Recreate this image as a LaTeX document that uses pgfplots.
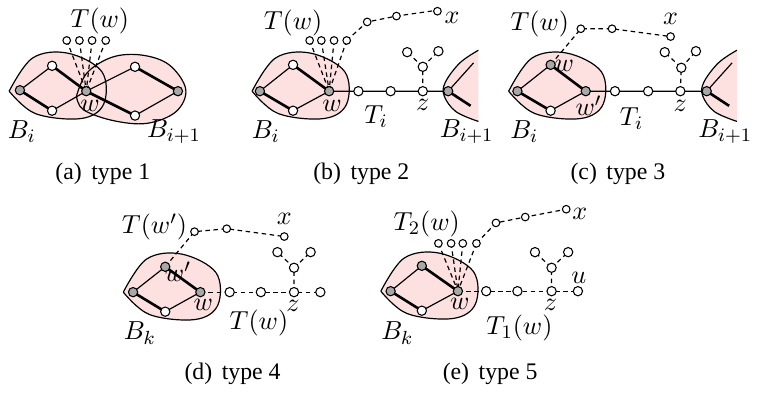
\documentclass[border=0pt]{standalone}
\usepackage{fontspec}
\setmainfont{Liberation Serif}
\usepackage{pgfplots}
\pgfplotsset{compat=1.18}
\definecolor{blobpink}{HTML}{FDE1E1}
\definecolor{nodegray}{HTML}{A8A8A8}
\pgfplotsset{
  blobfill/.style={fill=blobpink, draw=none, smooth, tension=0.6, no marks},
  blobline/.style={draw=black, line width=0.5pt, smooth, tension=0.6, no marks},
  thinedge/.style={black, line width=0.5pt, no marks},
  thickedge/.style={black, line width=1.1pt, no marks},
  dashedge/.style={black, line width=0.5pt, dash pattern=on 1.9pt off 1.5pt, no marks},
  wnode/.style={only marks, mark=*, mark size=1.95pt, mark options={fill=white, draw=black, line width=0.45pt}},
  gnode/.style={only marks, mark=*, mark size=1.95pt, mark options={fill=nodegray, draw=black, line width=0.45pt}},
  snode/.style={only marks, mark=*, mark size=1.6pt, mark options={fill=white, draw=black, line width=0.45pt}},
}
\newcommand{\lab}[1]{\fontsize{11}{13}\selectfont$#1$}
\begin{document}
\begin{tikzpicture}
\begin{axis}[
  x=0.41pt, y=0.41pt,
  xmin=0, xmax=760, ymin=0, ymax=391,
  y dir=reverse,
  hide axis,
  clip=false,
  enlargelimits=false,
]
% ---------- blobs (fills) ----------
% (a)
\addplot[blobfill] coordinates {(4,87)(28,53)(64,48)(99,67)(101,100)(78,115)(31,110)(4,87)};
\addplot[blobfill] coordinates {(73,92)(84,68)(110,52)(140,50)(168,60)(185,85)(175,108)(145,120)(110,117)(80,106)(73,92)};
% (b)
\addplot[blobfill] coordinates {(253,87)(277,53)(313,48)(348,67)(350,100)(327,115)(280,110)(253,87)};
\addplot[blobfill] coordinates {(485,45)(466,58)(451,78)(450,92)(462,108)(485,118)} -- cycle;
% (c)
\addplot[blobfill] coordinates {(516,87)(540,53)(576,48)(611,67)(613,100)(590,115)(543,110)(516,87)};
\addplot[blobfill] coordinates {(750,45)(731,58)(716,78)(715,92)(727,108)(750,118)} -- cycle;
% (d)
\addplot[blobfill] coordinates {(121,293)(145,259)(181,254)(216,273)(218,306)(195,321)(148,316)(121,293)};
% (e)
\addplot[blobfill] coordinates {(385,292)(409,258)(445,253)(480,272)(482,305)(459,320)(412,315)(385,292)};

% ---------- blob outlines ----------
\addplot[blobline] coordinates {(4,87)(28,53)(64,48)(99,67)(101,100)(78,115)(31,110)(4,87)};
\addplot[blobline] coordinates {(73,92)(84,68)(110,52)(140,50)(168,60)(185,85)(175,108)(145,120)(110,117)(80,106)(73,92)};
\addplot[blobline] coordinates {(253,87)(277,53)(313,48)(348,67)(350,100)(327,115)(280,110)(253,87)};
\addplot[blobline] coordinates {(485,45)(466,58)(451,78)(450,92)(462,108)(485,118)};
\addplot[blobline] coordinates {(516,87)(540,53)(576,48)(611,67)(613,100)(590,115)(543,110)(516,87)};
\addplot[blobline] coordinates {(750,45)(731,58)(716,78)(715,92)(727,108)(750,118)};
\addplot[blobline] coordinates {(121,293)(145,259)(181,254)(216,273)(218,306)(195,321)(148,316)(121,293)};
\addplot[blobline] coordinates {(385,292)(409,258)(445,253)(480,272)(482,305)(459,320)(412,315)(385,292)};

% ---------- (a) type 1 ----------
\addplot[thinedge] coordinates {(15,86)(48,61)};
\addplot[thinedge] coordinates {(48,107)(83,87)(133,62)};
\addplot[thinedge] coordinates {(133,112)(177,87)};
\addplot[thickedge] coordinates {(15,86)(48,107)};
\addplot[thickedge] coordinates {(48,61)(83,87)(133,112)};
\addplot[thickedge] coordinates {(133,62)(177,87)};
\addplot[dashedge] coordinates {(63,35)(83,87)};
\addplot[dashedge] coordinates {(76,35)(83,87)};
\addplot[dashedge] coordinates {(89,35)(83,87)};
\addplot[dashedge] coordinates {(103,35)(83,87)};
\addplot[gnode] coordinates {(15,86)(83,87)(177,87)};
\addplot[wnode] coordinates {(48,61)(48,107)(133,62)(133,112)};
\addplot[snode] coordinates {(63,35)(76,35)(89,35)(103,35)};

% ---------- (b) type 2 ----------
\addplot[thinedge] coordinates {(261,87)(295,60)};
\addplot[thinedge] coordinates {(295,107)(332,87)(454,87)};
\addplot[thickedge] coordinates {(261,87)(295,107)};
\addplot[thickedge] coordinates {(295,60)(332,87)};
\addplot[thinedge] coordinates {(454,87)(480,58)};
\addplot[thickedge] coordinates {(454,87)(477,102)};
\addplot[dashedge] coordinates {(312,35)(332,87)};
\addplot[dashedge] coordinates {(324,35)(332,87)};
\addplot[dashedge] coordinates {(337,35)(332,87)};
\addplot[dashedge] coordinates {(350,35)(332,87)};
\addplot[dashedge] coordinates {(350,35)(371,16)(401,10)(443,4)};
\addplot[dashedge] coordinates {(428,87)(428,62)(412,47)};
\addplot[dashedge] coordinates {(428,62)(444,46)};
\addplot[gnode] coordinates {(261,87)(332,87)(454,87)};
\addplot[wnode] coordinates {(295,60)(295,107)(362,87)(395,87)(428,87)(428,62)(412,47)(444,46)};
\addplot[snode] coordinates {(312,35)(324,35)(337,35)(350,35)(371,16)(401,10)(443,5)};

% ---------- (c) type 3 ----------
\addplot[thinedge] coordinates {(525,87)(559,60)};
\addplot[thinedge] coordinates {(559,107)(595,87)(719,87)};
\addplot[thickedge] coordinates {(525,87)(559,107)};
\addplot[thickedge] coordinates {(559,60)(595,87)};
\addplot[thinedge] coordinates {(719,87)(745,58)};
\addplot[thickedge] coordinates {(719,87)(742,102)};
\addplot[dashedge] coordinates {(559,60)(590,23)(622,23)(682,31)};
\addplot[dashedge] coordinates {(692,87)(693,63)(676,47)};
\addplot[dashedge] coordinates {(693,63)(708,46)};
\addplot[gnode] coordinates {(525,87)(559,60)(595,87)(719,87)};
\addplot[wnode] coordinates {(559,107)(625,87)(659,87)(692,87)(693,63)(676,47)(708,46)};
\addplot[snode] coordinates {(590,23)(622,23)(682,31)};

% ---------- (d) type 4 ----------
\addplot[thinedge] coordinates {(131,293)(164,267)};
\addplot[thinedge] coordinates {(164,313)(200,293)};
\addplot[thickedge] coordinates {(131,293)(164,313)};
\addplot[thickedge] coordinates {(164,267)(200,293)};
\addplot[dashedge] coordinates {(164,267)(194,231)(227,228)(286,236)};
\addplot[dashedge] coordinates {(200,293)(323,293)};
\addplot[dashedge] coordinates {(296,293)(296,268)(279,252)};
\addplot[dashedge] coordinates {(296,268)(313,252)};
\addplot[gnode] coordinates {(131,293)(164,267)(200,293)};
\addplot[wnode] coordinates {(164,313)(230,293)(262,293)(296,293)(323,293)(296,268)(279,252)(313,252)};
\addplot[snode] coordinates {(194,231)(227,228)(286,236)};

% ---------- (e) type 5 ----------
\addplot[thinedge] coordinates {(395,292)(427,266)};
\addplot[thinedge] coordinates {(427,312)(464,292)};
\addplot[thickedge] coordinates {(395,292)(427,312)};
\addplot[thickedge] coordinates {(427,266)(464,292)};
\addplot[dashedge] coordinates {(444,243)(464,292)};
\addplot[dashedge] coordinates {(457,243)(464,292)};
\addplot[dashedge] coordinates {(469,243)(464,292)};
\addplot[dashedge] coordinates {(483,243)(464,292)};
\addplot[dashedge] coordinates {(483,243)(503,222)(533,216)(575,208)};
\addplot[dashedge] coordinates {(464,292)(587,292)};
\addplot[dashedge] coordinates {(560,292)(560,268)(543,252)};
\addplot[dashedge] coordinates {(560,268)(577,252)};
\addplot[gnode] coordinates {(395,292)(427,266)(464,292)};
\addplot[wnode] coordinates {(427,312)(493,292)(525,292)(560,292)(587,292)(560,268)(543,252)(577,252)};
\addplot[snode] coordinates {(444,243)(457,243)(469,243)(483,243)(503,222)(533,216)(575,208)};

% ---------- labels ----------
\node at (axis cs:97,15) {\lab{T(w)}};
\node at (axis cs:87,102) {\lab{w}};
\node at (axis cs:17,128) {\lab{B_i}};
\node at (axis cs:173,128) {\lab{B_{i+1}}};
\node at (axis cs:100,172) {(a)\hspace{0.4em}type 1};

\node at (axis cs:295,17) {\lab{T(w)}};
\node at (axis cs:335,102) {\lab{w}};
\node at (axis cs:458,12) {\lab{x}};
\node at (axis cs:428,101) {\lab{z}};
\node at (axis cs:380,113) {\lab{T_i}};
\node at (axis cs:267,128) {\lab{B_i}};
\node at (axis cs:473,128) {\lab{B_{i+1}}};
\node at (axis cs:365,172) {(b)\hspace{0.4em}type 2};

\node at (axis cs:548,18) {\lab{T(w)}};
\node at (axis cs:573,61) {\lab{w}};
\node at (axis cs:598,102) {\lab{w'}};
\node at (axis cs:682,13) {\lab{x}};
\node at (axis cs:692,102) {\lab{z}};
\node at (axis cs:642,115) {\lab{T_i}};
\node at (axis cs:532,128) {\lab{B_i}};
\node at (axis cs:738,128) {\lab{B_{i+1}}};
\node at (axis cs:628,172) {(c)\hspace{0.4em}type 3};

\node at (axis cs:153,226) {\lab{T(w')}};
\node at (axis cs:177,272) {\lab{w'}};
\node at (axis cs:203,306) {\lab{w}};
\node at (axis cs:286,218) {\lab{x}};
\node at (axis cs:295,307) {\lab{z}};
\node at (axis cs:260,325) {\lab{T(w)}};
\node at (axis cs:138,335) {\lab{B_k}};
\node at (axis cs:233,377) {(d)\hspace{0.4em}type 4};

\node at (axis cs:432,223) {\lab{T_2(w)}};
\node at (axis cs:466,305) {\lab{w}};
\node at (axis cs:589,213) {\lab{x}};
\node at (axis cs:588,278) {\lab{u}};
\node at (axis cs:559,306) {\lab{z}};
\node at (axis cs:527,330) {\lab{T_1(w)}};
\node at (axis cs:402,335) {\lab{B_k}};
\node at (axis cs:497,377) {(e)\hspace{0.4em}type 5};
\end{axis}
\end{tikzpicture}
\end{document}
